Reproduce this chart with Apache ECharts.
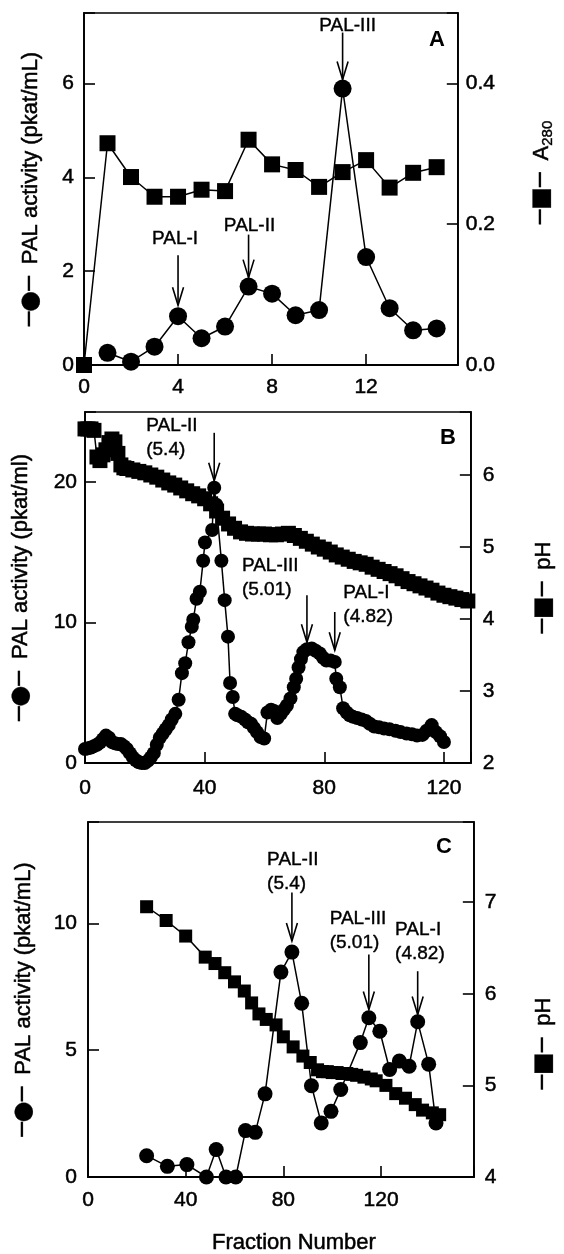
<!DOCTYPE html>
<html><head><meta charset="utf-8">
<script src="https://cdn.jsdelivr.net/npm/echarts@6/dist/echarts.min.js"></script>
<style>html,body{margin:0;padding:0;background:#fff}#c{width:564px;height:1254px}</style>
</head><body><div id="c"></div><script>
// ---------- Panel A ----------
const fractionA = [0,1,2,3,4,5,6,7,8,9,10,11,12,13,14,15];
const palActivityA = [null,0.26,0.07,0.39,1.04,0.57,0.82,1.67,1.52,1.06,1.17,5.89,2.30,1.21,0.74,0.78];
const a280A = [0.0,0.315,0.267,0.239,0.239,0.249,0.247,0.320,0.285,0.277,0.253,0.274,0.291,0.252,0.273,0.281];

// ---------- Panel B ----------
const fractionB_act = [0,1,2,3,4,5,6,7,8,9,10,11,12,13,14,15,16,17,18,19,20,21,22,23,24,25,26,27,28,29,
  30.2,31.3,32.4,33.5,34.6,35.7,36.2,37.3,38.4,39.5,40.1,42.5,43.2,43.9,45.6,46.7,47.8,48.5,49.4,50.2,
  51,52.2,53.5,54.5,55.5,56.5,57.5,58.7,59.9,61,62.2,63.2,64.3,65.5,66.5,67.5,68.7,69.8,70.6,71.4,72.2,73,
  74.2,75.8,77.1,78.5,79.6,80.7,82.1,83.5,84,85.2,86.3,87.5,88.5,89.5,91,92.5,93.9,95.2,96.7,98.3,100,
  101.8,103.8,105.5,107.5,109.3,111,112.8,114.2,115.9,117.3,118.7,120];
const palActivityB = [1.0,1.05,1.1,1.2,1.3,1.45,1.7,1.95,1.8,1.5,1.4,1.35,1.35,1.2,1.0,0.7,0.4,0.2,0.05,0,0,0.15,0.4,0.7,1.3,1.8,2.1,2.4,2.7,3.1,
  3.5,4.5,6.4,7.1,8.6,9.7,10.2,11.7,12.2,14.4,15.7,16.6,19.6,18.4,14.4,11.6,9.0,5.7,4.7,3.5,
  3.4,3.3,3.1,2.9,2.8,2.5,2.2,1.85,1.74,3.6,3.8,3.7,3.2,3.5,3.8,4.1,4.6,5.4,6.0,6.8,7.4,7.9,
  8.1,8.15,8.0,7.8,7.5,7.3,7.3,7.2,6.0,5.4,3.9,3.6,3.4,3.3,3.2,3.1,3.0,2.8,2.6,2.55,2.45,
  2.4,2.3,2.2,2.1,2.05,1.95,2.0,2.3,2.7,2.2,1.9,1.5];
const fractionB_pH = [0,1,2,3,4,5,6,7,8,9,10,11,12,13,14,16,18,20,22,24,26,28,30,32,34,36,38,40,42,44,46,48,50,
  52,54,56,58,60,62,64,66,68,70,72,74,76,78,80,82,84,86,88,90,92,94,96,98,100,102,104,106,108,110,112,114,
  116,118,120,122,124,126,128];
const pHB = [6.64,6.64,6.64,6.62,6.25,6.2,6.28,6.35,6.45,6.5,6.46,6.3,6.14,6.1,6.09,6.07,6.05,6.03,6.0,5.97,5.93,5.89,5.86,5.82,5.78,5.74,5.71,5.67,5.6,5.5,5.4,5.32,5.26,
  5.21,5.19,5.18,5.18,5.18,5.17,5.17,5.18,5.19,5.16,5.12,5.08,5.04,5.0,4.97,4.93,4.89,4.86,4.83,4.8,4.78,4.76,4.72,4.69,4.66,4.63,4.6,4.56,4.52,4.49,4.46,4.43,
  4.4,4.36,4.33,4.31,4.29,4.27,4.25];

// ---------- Panel C ----------
const fractionC_act = [24,32.5,40.5,48.5,52.5,56.5,60.5,64.5,68.5,72.5,79,83.5,87.5,91.5,95.5,99.5,103.5,111.5,115,119.5,123.5,127.5,131.5,135,139.5,142.5];
const palActivityC = [0.84,0.42,0.49,0,1.08,0,0,1.83,1.76,3.28,8.08,8.87,6.85,3.6,2.13,2.59,3.45,5.3,6.28,5.75,4.24,4.57,4.37,6.12,4.45,2.13];
const fractionC_pH = [24,32,40,48,52,56,60,64,67,70,73,77,80,84,88,91,94,96,98,100,102,104,106,108,110,113,116,118,122,126,130,134,137,141,144];
const pHC = [6.95,6.8,6.63,6.4,6.33,6.23,6.13,6.03,5.9,5.78,5.72,5.66,5.53,5.42,5.32,5.25,5.17,5.15,5.15,5.14,5.14,5.13,5.13,5.12,5.11,5.09,5.07,5.05,5.0,4.91,4.86,4.79,4.73,4.7,4.68];

// ---------- tick labels ----------
const ticksA_x = [0,4,8,12], ticksA_left = [0,2,4,6], ticksA_right = [0,0.2,0.4];
const ticksB_x = [0,40,80,120], ticksB_left = [0,10,20], ticksB_right = [2,3,4,5,6];
const ticksC_x = [0,40,80,120], ticksC_left = [0,5,10], ticksC_right = [4,5,6,7];

// annotations (arrow + label) anchored to data points
const annotations = [
  {g:0, x:11, y:5.89, gap:9, len:47, text:'PAL-III', dx:5, dy:-63, align:'center'},
  {g:0, x:4, y:1.04, gap:11, len:50, text:'PAL-I', dx:-3, dy:-77.7, align:'center'},
  {g:0, x:7, y:1.67, gap:9, len:43, text:'PAL-II', dx:1, dy:-60.8, align:'center'},
  {g:1, x:43.2, y:19.6, gap:7, len:48, text:'PAL-II\n(5.4)', dx:-68, dy:-62.5, align:'left'},
  {g:1, x:74.2, y:8.1, gap:7, len:47, text:'PAL-III\n(5.01)', dx:-65, dy:-84, align:'left'},
  {g:1, x:83.5, y:7.2, gap:11.6, len:38.3, text:'PAL-I\n(4.82)', dx:8.6, dy:-69, align:'left'},
  {g:2, x:83.5, y:8.87, gap:11, len:48.7, text:'PAL-II\n(5.4)', dx:-24.8, dy:-92.6, align:'left'},
  {g:2, x:115, y:6.28, gap:8.2, len:55, text:'PAL-III\n(5.01)', dx:-39.2, dy:-99.2, align:'left'},
  {g:2, x:135, y:6.12, gap:7.3, len:43.3, text:'PAL-I\n(4.82)', dx:-22.6, dy:-91.8, align:'left'}
];

const FONT = '"Liberation Sans", Arial, sans-serif';
const BLACK = '#000';
const THICK = {textBorderColor: '#000', textBorderWidth: 0.5};

function fmt(list, dec) {
  return function (v) {
    for (const t of list) if (Math.abs(t - v) < 1e-6) return dec ? t.toFixed(dec) : String(t);
    return '';
  };
}
function pairs(xs, ys) { return xs.map((x, i) => [x, ys[i]]); }

const grids = [
  {left: 84, top: 13, width: 391, height: 352},
  {left: 85, top: 412, width: 392, height: 351},
  {left: 88, top: 822, width: 391, height: 355}
];

function xAxisCfg(g, max, interval, ticks, margin) {
  return {
    type: 'value', gridIndex: g, min: 0, max: max, interval: interval,
    axisLine: {show: true, onZero: false, lineStyle: {color: BLACK, width: 1.8}},
    axisTick: {show: true, inside: true, length: 11, lineStyle: {color: BLACK, width: 1.6}},
    axisLabel: Object.assign({show: true, formatter: fmt(ticks), color: BLACK, fontSize: 21, fontFamily: FONT, margin: margin}, THICK),
    splitLine: {show: false}
  };
}
function yAxisCfg(g, pos, min, max, interval, ticks, dec, margin, name, nameGap, rich) {
  return {
    type: 'value', gridIndex: g, position: pos, min: min, max: max, interval: interval,
    axisLine: {show: true, onZero: false, lineStyle: {color: BLACK, width: 1.8}},
    axisTick: {show: true, inside: true, length: 11, lineStyle: {color: BLACK, width: 1.6}},
    axisLabel: Object.assign({show: true, formatter: fmt(ticks, dec), color: BLACK, fontSize: 21, fontFamily: FONT, margin: margin}, THICK),
    splitLine: {show: false},
    name: name, nameLocation: 'middle', nameRotate: 90, nameGap: nameGap,
    nameTextStyle: Object.assign({color: BLACK, fontSize: 22, fontFamily: FONT, rich: rich}, THICK)
  };
}

const symStyle = {fontSize: 24, fontFamily: 'DejaVu Sans', color: BLACK, textBorderColor: '#000', textBorderWidth: 0.3};
const richCircle = {s: symStyle};
const richSquare = {s: symStyle,
  sub: {fontSize: 15, fontFamily: FONT, color: BLACK, verticalAlign: 'bottom', lineHeight: 15, textBorderColor: '#000', textBorderWidth: 0.4},
  m: {fontSize: 22, fontFamily: FONT, color: BLACK, lineHeight: 28, textBorderColor: '#000', textBorderWidth: 0.5},
  gap: {fontSize: 22, fontFamily: FONT, color: 'rgba(0,0,0,0)', textBorderWidth: 0}};

const circleName = (unit) => '{s|─●─}  PAL activity (pkat/' + unit + ')';

function lineSeries(name, xi, yi, data, symbol, size, z) {
  return {
    name: name, type: 'line', xAxisIndex: xi, yAxisIndex: yi, data: data,
    symbol: symbol, symbolSize: size, showSymbol: true, clip: false,
    lineStyle: {color: BLACK, width: 1.5}, itemStyle: {color: BLACK, borderWidth: 0},
    animation: false, z: z, connectNulls: false
  };
}

const chart = echarts.init(document.getElementById('c'), null, {renderer: 'canvas'});
chart.setOption({
  animation: false,
  backgroundColor: '#fff',
  grid: grids.map(g => Object.assign({show: true, borderColor: BLACK, borderWidth: 1.6, backgroundColor: 'transparent'}, g)),
  xAxis: [
    xAxisCfg(0, 15.9, 4, ticksA_x, 12),
    xAxisCfg(1, 129, 40, ticksB_x, 15),
    xAxisCfg(2, 158, 40, ticksC_x, 13)
  ],
  yAxis: [
    yAxisCfg(0, 'left', 0, 7.5, 2, ticksA_left, 0, 10, circleName('mL'), 41, richCircle),
    yAxisCfg(0, 'right', 0, 0.5, 0.2, ticksA_right, 1, 8, '{gap|xxx}{s|─■─}  {m|A}{sub|280}', 70, richSquare),
    yAxisCfg(1, 'left', 0, 25, 10, ticksB_left, 0, 8, circleName('ml'), 52, richCircle),
    yAxisCfg(1, 'right', 2, 6.875, 1, ticksB_right, 0, 12, '{s|─■─}  pH', 61, richSquare),
    yAxisCfg(2, 'left', 0, 14, 5, ticksC_left, 0, 11, circleName('mL'), 52, richCircle),
    yAxisCfg(2, 'right', 4, 7.875, 1, ticksC_right, 0, 11, '{s|─■─}  pH{gap|xxxxxxxx}', 58, richSquare)
  ],
  series: [
    lineSeries('A280', 0, 1, pairs(fractionA, a280A), 'rect', 16, 2),
    lineSeries('PAL activity A', 0, 0, pairs(fractionA, palActivityA), 'circle', 18, 3),
    lineSeries('pH B', 1, 3, pairs(fractionB_pH, pHB), 'rect', 15, 2),
    lineSeries('PAL activity B', 1, 2, pairs(fractionB_act, palActivityB), 'circle', 14, 3),
    lineSeries('pH C', 2, 5, pairs(fractionC_pH, pHC), 'rect', 13, 2),
    lineSeries('PAL activity C', 2, 4, pairs(fractionC_act, palActivityC), 'circle', 15, 3)
  ]
});

// annotations, panel letters and x-axis title
const gfx = [];
annotations.forEach(a => {
  const p = chart.convertToPixel({xAxisIndex: a.g, yAxisIndex: a.g * 2}, [a.x, a.y]);
  const tip = p[1] - a.gap, top = tip - a.len;
  gfx.push({type: 'line', shape: {x1: p[0], y1: top, x2: p[0], y2: tip}, style: {stroke: BLACK, lineWidth: 1.6}, z: 10});
  gfx.push({type: 'polyline', shape: {points: [[p[0] - 5.5, tip - 18], [p[0], tip], [p[0] + 5.5, tip - 18]]}, style: {stroke: BLACK, lineWidth: 1.6, fill: null}, z: 10});
  gfx.push({type: 'text', x: p[0] + a.dx, y: p[1] + a.dy - 12, z: 10,
    style: {text: a.text, font: '19px ' + FONT, fill: BLACK, stroke: BLACK, lineWidth: 0.4, textAlign: a.align, textVerticalAlign: 'top', lineHeight: 24}});
});
const letters = [['A', 437, 40], ['B', 448, 438], ['C', 444, 847]];
letters.forEach(l => gfx.push({type: 'text', x: l[1], y: l[2], z: 10,
  style: {text: l[0], font: 'bold 22px ' + FONT, fill: BLACK, textAlign: 'center', textVerticalAlign: 'middle'}}));
gfx.push({type: 'text', x: 294, y: 1243, z: 10,
  style: {text: 'Fraction Number', font: '22px ' + FONT, fill: BLACK, stroke: BLACK, lineWidth: 0.5, textAlign: 'center', textVerticalAlign: 'middle'}});
chart.setOption({graphic: gfx});
</script></body></html>
